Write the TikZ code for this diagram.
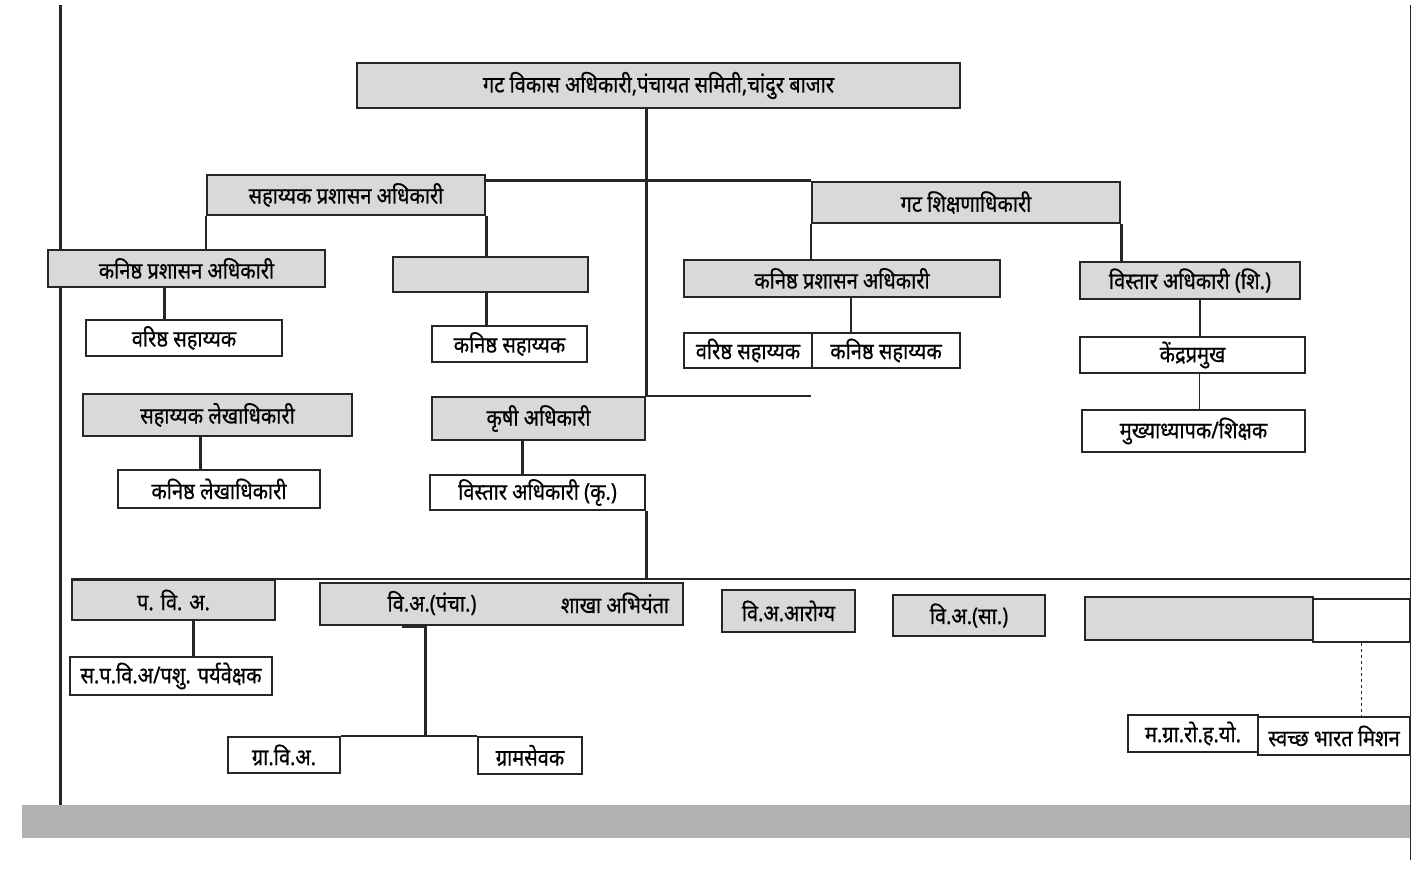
\documentclass[tikz,border=0pt]{standalone}
\usepackage{fontspec}
\newfontfamily\deva[Script=Devanagari,FakeStretch=0.87,FakeBold=0.6]{Noto Sans}
\begin{document}
\begin{tikzpicture}[x=1pt,y=-1pt,line width=2.4pt,draw=black!85]
    \tikzstyle{post}=[draw,rectangle,inner sep=0pt,font=\deva\fontsize{23}{25}\selectfont]
    \tikzstyle{head post}=[post,fill=black!15]
    \tikzstyle{sub post}=[post,fill=white]
    \tikzstyle{label text}=[inner sep=0pt,font=\deva\fontsize{23}{25}\selectfont]
    \tikzstyle{link}=[line width=2.6pt]
    \useasboundingbox (0,0) rectangle (1427,869);

    % scan edges
    \fill[black!30] (22,805) rectangle (1410,838);
    \draw[line width=3pt] (60,5) -- (60,805);
    \draw[line width=1pt] (1410,5) -- (1410,860);

    % Top and second level
    \node[head post,minimum width=603,minimum height=45] (T) at (658.5,85.5) {गट विकास अधिकारी,पंचायत समिती,चांदुर बाजार};
    \node[head post,minimum width=278,minimum height=40] (S) at (346,195) {सहाय्यक प्रशासन अधिकारी};
    \node[head post,minimum width=308,minimum height=41] (G) at (966,202.5) {गट शिक्षणाधिकारी};

    % Administration branch
    \node[head post,minimum width=277,minimum height=37] (KP-1) at (186.5,268.5) {कनिष्ठ प्रशासन अधिकारी};
    \node[head post,minimum width=195,minimum height=35] (BL-1) at (490.5,274.5) {};
    \node[sub post,minimum width=196,minimum height=36] (VS-1) at (184,338) {वरिष्ठ सहाय्यक};
    \node[sub post,minimum width=155,minimum height=36] (KS-1) at (509.5,344) {कनिष्ठ सहाय्यक};
    \node[head post,minimum width=269,minimum height=42] (SL) at (217.5,415) {सहाय्यक लेखाधिकारी};
    \node[sub post,minimum width=202,minimum height=38] (KL) at (219,489) {कनिष्ठ लेखाधिकारी};

    % Agriculture branch
    \node[head post,minimum width=213,minimum height=43] (KR) at (538.5,418.5) {कृषी अधिकारी};
    \node[sub post,minimum width=215,minimum height=35] (VK) at (537.5,492.5) {विस्तार अधिकारी (कृ.)};

    % Education branch
    \node[head post,minimum width=316,minimum height=37] (KP-2) at (842,278.5) {कनिष्ठ प्रशासन अधिकारी};
    \node[sub post,minimum width=128,minimum height=35] (VS-2) at (748,350.5) {वरिष्ठ सहाय्यक};
    \node[sub post,minimum width=148,minimum height=35] (KS-2) at (886,350.5) {कनिष्ठ सहाय्यक};
    \node[head post,minimum width=220,minimum height=37] (VA) at (1190,280.5) {विस्तार अधिकारी (शि.)};
    \node[sub post,minimum width=225,minimum height=36] (KPM) at (1192.5,355) {केंद्रप्रमुख};
    \node[sub post,minimum width=223,minimum height=42] (MA) at (1193.5,431) {मुख्याध्यापक/शिक्षक};

    % Bottom row
    \node[head post,minimum width=203,minimum height=40] (PV) at (173.5,600) {प. वि. अ.};
    \node[sub post,minimum width=202,minimum height=38] (SP) at (171,676) {स.प.वि.अ/पशु. पर्यवेक्षक};
    \node[head post,minimum width=363,minimum height=42] (VP) at (501.5,604) {};
    \node[label text] (VP-1) at (432,603) {वि.अ.(पंचा.)};
    \node[label text] (VP-2) at (615,603) {शाखा अभियंता};
    \node[sub post,minimum width=112,minimum height=36] (GV) at (284,755) {ग्रा.वि.अ.};
    \node[sub post,minimum width=104,minimum height=37] (GS) at (530,755.5) {ग्रामसेवक};
    \node[head post,minimum width=133,minimum height=42] (VR) at (788.5,611) {वि.अ.आरोग्य};
    \node[head post,minimum width=152,minimum height=41] (VSA) at (969,615.5) {वि.अ.(सा.)};
    \node[head post,minimum width=228,minimum height=43] (BL-2) at (1199,618.5) {};
    \node[sub post,minimum width=97,minimum height=43] (BL-3) at (1361.5,620.5) {};
    \node[sub post,minimum width=130,minimum height=37] (MG) at (1193,733.5) {म.ग्रा.रो.ह.यो.};
    \node[sub post,minimum width=152,minimum height=38] (SB) at (1334,736) {स्वच्छ भारत मिशन};

    % Connectors
    \draw[link] (KR.north east |- T.south) -- (KR.north east);
    \draw[link] (KR.north east) -- (G.south west |- KR.north east);
    \draw[link] (S.east |- G.north) -- (G.north west);
    \draw[link] (S.south west) -- (S.south west |- KP-1.north);
    \draw[link] (S.south east) -- (S.south east |- BL-1.north);
    \draw[link] (S.south east |- BL-1.south) -- (S.south east |- KS-1.north);
    \draw[link] ([xshift=-22pt]KP-1.south) -- ([xshift=-22pt]KP-1.south |- VS-1.north);
    \draw[link] ([xshift=-17pt]SL.south) -- ([xshift=-17pt]SL.south |- KL.north);
    \draw[link] ([xshift=-16pt]KR.south) -- ([xshift=-16pt]KR.south |- VK.north);
    \draw[link] (G.south west) -- (G.south west |- KP-2.north);
    \draw[link] (G.south east) -- (G.south east |- VA.north);
    \draw[link] ([xshift=9pt]KP-2.south) -- ([xshift=9pt]KP-2.south |- KS-2.north);
    \draw[link] ([xshift=10pt]VA.south) -- ([xshift=10pt]VA.south |- KPM.north);
    \draw[line width=1.2pt] ([xshift=7pt]KPM.south) -- ([xshift=7pt]KPM.south |- MA.north);
    \draw[link] (VK.south east) -- (VK.south east |- PV.north);
    \draw[line width=1.6pt] (PV.north west) -- (PV.north west -| BL-3.north east);
    \draw[link] ([xshift=20pt]PV.south) -- ([xshift=20pt]PV.south |- SP.north);
    \draw[link] ([xshift=-100pt]VP.south) -- ++(24,0) |- (GV.north east) -- (GS.north west);
    \draw[line width=1.2pt,dashed] (BL-3.south) -- (BL-3.south |- SB.north);
\end{tikzpicture}
\end{document}
